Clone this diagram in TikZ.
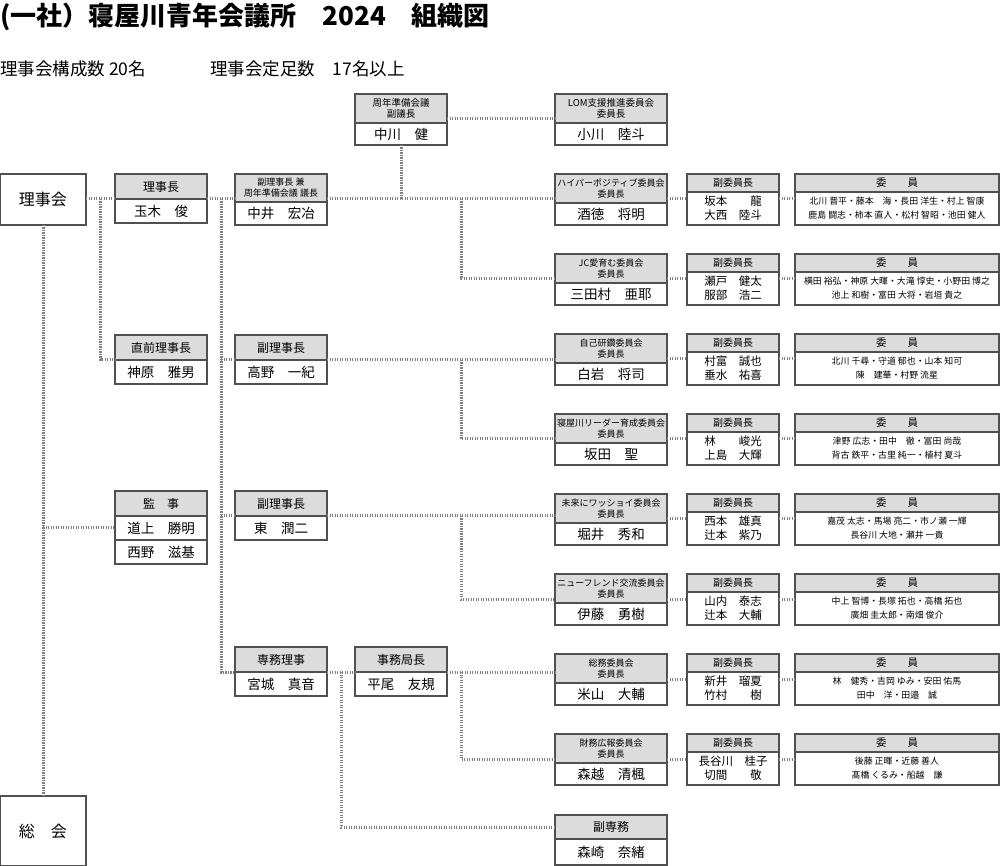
\documentclass[tikz,border=0pt]{standalone}
\usepackage{fontspec}
\setmainfont{Noto Sans CJK JP}
\usetikzlibrary{positioning,calc}
\definecolor{boxline}{HTML}{505050}
\definecolor{hdfill}{HTML}{DCDCDC}
\definecolor{dotline}{HTML}{808080}

\begin{document}
\begin{tikzpicture}[x=1pt, y=-1pt,
    box/.style={draw=boxline, line width=1.2pt, outer sep=0pt, inner sep=0pt, align=center},
    hd/.style={box, fill=hdfill, anchor=north west},
    lhd/.style={hd, minimum width=92, minimum height=25, font=\fontsize{12}{14}\selectfont},
    lnm/.style={box, minimum width=92, minimum height=24, font=\fontsize{13.5}{16}\selectfont},
    chd/.style={hd, minimum width=112, minimum height=29, font=\fontsize{9}{11}\selectfont},
    cnm/.style={box, minimum width=112, minimum height=22, font=\fontsize{13.5}{16}\selectfont},
    vhd/.style={hd, minimum width=92, minimum height=18, font=\fontsize{10}{12}\selectfont},
    vnm/.style={box, minimum width=92, minimum height=33, font=\fontsize{11.5}{14}\selectfont},
    mhd/.style={hd, minimum width=204, minimum height=18, font=\fontsize{10.5}{12}\selectfont},
    mnm/.style={box, minimum width=204, minimum height=33, font=\fontsize{8.9}{14}\selectfont},
    conn/.style={draw=dotline, line width=3pt, dash pattern=on 1.3pt off 1.2pt}]
    \useasboundingbox (0,0) rectangle (1002,866);

    % heading
    \node[anchor=west, inner sep=0pt, font=\fontsize{26}{30}\selectfont\bfseries] (title) at (0,17) {(一社）寝屋川青年会議所　2024　組織図};
    \node[anchor=west, inner sep=0pt, font=\fontsize{17.5}{20}\selectfont] (kousei) at (0,69) {理事会構成数 20名};
    \node[anchor=west, inner sep=0pt, font=\fontsize{17.5}{20}\selectfont] (teisoku) at (210,69) {理事会定足数　17名以上};

    % left side
    \node[box, anchor=north west, minimum width=86, minimum height=51, font=\fontsize{16}{18}\selectfont] (rijikai) at (0,174) {理事会};
    \node[box, anchor=north west, minimum width=86, minimum height=70, font=\fontsize{16}{18}\selectfont] (soukai) at (0,796) {総　会};
    \node[lhd] (rjh) at (115,174) {理事長};
    \node[lnm, below=0pt of rjh] (rjn) {玉木　俊};
    \node[lhd] (zzh) at (115,335) {直前理事長};
    \node[lnm, below=0pt of zzh] (zzn) {神原　雅男};
    \node[lhd] (kjh) at (115,491) {監　事};
    \node[lnm, below=0pt of kjh] (kj1) {道上　勝明};
    \node[lnm, below=0pt of kj1] (kj2) {西野　滋基};

    \node[lhd, minimum height=28, font=\fontsize{9}{11}\selectfont] (fkh) at (235,174) {副理事長 兼\\周年準備会議 議長};
    \node[lnm, minimum height=23, below=0pt of fkh] (fkn) {中井　宏冶};
    \node[lhd] (f1h) at (235,335) {副理事長};
    \node[lnm, below=0pt of f1h] (f1n) {高野　一紀};
    \node[lhd] (f2h) at (235,491) {副理事長};
    \node[lnm, below=0pt of f2h] (f2n) {東　潤二};
    \node[lhd] (smh) at (235,647) {専務理事};
    \node[lnm, below=0pt of smh] (smn) {宮城　真音};
    \node[lhd] (jkh) at (355,647) {事務局長};
    \node[lnm, below=0pt of jkh] (jkn) {平尾　友規};

    \node[lhd, minimum height=29, font=\fontsize{9.5}{11}\selectfont] (syuh) at (355,94) {周年準備会議\\副議長};
    \node[lnm, minimum height=22, below=0pt of syuh] (syun) {中川　健};
    \node[chd, font=\fontsize{9.5}{11}\selectfont] (lomh) at (555,94) {LOM支援推進委員会\\委員長};
    \node[cnm, below=0pt of lomh] (lomn) {小川　陸斗};
    \node[chd, minimum height=24, font=\fontsize{12}{14}\selectfont] (fsh) at (555,815) {副専務};
    \node[cnm, minimum height=26, below=0pt of fsh] (fsn) {森崎　奈緒};

    % committees
    \node[chd] (c1h) at (555,174) {ハイパーポジティブ委員会\\委員長};
    \node[cnm, below=0pt of c1h] (c1n) {酒徳　将明};
    \node[vhd] (v1h) at (687,174) {副委員長};
    \node[vnm, below=0pt of v1h] (v1n) {坂本　　龍\\大西　陸斗};
    \node[mhd] (m1h) at (795,174) {委　　員};
    \node[mnm, below=0pt of m1h] (m1n) {北川 晋平・藤本　海・長田 洋生・村上 智康\\鹿島 闘志・柿本 直人・松村 智昭・池田 健人};

    \node[chd] (c2h) at (555,254) {JC愛育む委員会\\委員長};
    \node[cnm, below=0pt of c2h] (c2n) {三田村　亜耶};
    \node[vhd] (v2h) at (687,254) {副委員長};
    \node[vnm, below=0pt of v2h] (v2n) {瀬戸　健太\\服部　浩二};
    \node[mhd] (m2h) at (795,254) {委　　員};
    \node[mnm, below=0pt of m2h] (m2n) {横田 裕弘・神原 大暉・大滝 惇史・小野田 博之\\池上 和樹・富田 大将・岩垣 貴之};

    \node[chd] (c3h) at (555,334) {自己研鑽委員会\\委員長};
    \node[cnm, below=0pt of c3h] (c3n) {白岩　将司};
    \node[vhd] (v3h) at (687,334) {副委員長};
    \node[vnm, below=0pt of v3h] (v3n) {村富　誠也\\垂水　祐喜};
    \node[mhd] (m3h) at (795,334) {委　　員};
    \node[mnm, below=0pt of m3h] (m3n) {北川 千尋・守道 郁也・山本 知可\\陳　建華・村野 流星};

    \node[chd] (c4h) at (555,414) {寝屋川リーダー育成委員会\\委員長};
    \node[cnm, below=0pt of c4h] (c4n) {坂田　聖};
    \node[vhd] (v4h) at (687,414) {副委員長};
    \node[vnm, below=0pt of v4h] (v4n) {林　　峻光\\上島　大輝};
    \node[mhd] (m4h) at (795,414) {委　　員};
    \node[mnm, below=0pt of m4h] (m4n) {津野 広志・田中　徹・冨田 尚哉\\背古 鉄平・古里 純一・植村 夏斗};

    \node[chd] (c5h) at (555,494) {未来にワッショイ委員会\\委員長};
    \node[cnm, below=0pt of c5h] (c5n) {堀井　秀和};
    \node[vhd] (v5h) at (687,494) {副委員長};
    \node[vnm, below=0pt of v5h] (v5n) {西本　雄真\\辻本　紫乃};
    \node[mhd] (m5h) at (795,494) {委　　員};
    \node[mnm, below=0pt of m5h] (m5n) {嘉茂 太志・馬場 亮二・市ノ瀬 一輝\\長谷川 大地・瀬井 一貴};

    \node[chd] (c6h) at (555,574) {ニューフレンド交流委員会\\委員長};
    \node[cnm, below=0pt of c6h] (c6n) {伊藤　勇樹};
    \node[vhd] (v6h) at (687,574) {副委員長};
    \node[vnm, below=0pt of v6h] (v6n) {山内　泰志\\辻本　大輔};
    \node[mhd] (m6h) at (795,574) {委　　員};
    \node[mnm, below=0pt of m6h] (m6n) {中上 智博・長塚 拓也・高橋 拓也\\廣畑 圭太郎・南畑 俊介};

    \node[chd] (c7h) at (555,654) {総務委員会\\委員長};
    \node[cnm, below=0pt of c7h] (c7n) {米山　大輔};
    \node[vhd] (v7h) at (687,654) {副委員長};
    \node[vnm, below=0pt of v7h] (v7n) {新井　瑠夏\\竹村　　樹};
    \node[mhd] (m7h) at (795,654) {委　　員};
    \node[mnm, below=0pt of m7h] (m7n) {林　健秀・吉岡 ゆみ・安田 佑馬\\田中　洋・田邉　誠};

    \node[chd] (c8h) at (555,734) {財務広報委員会\\委員長};
    \node[cnm, below=0pt of c8h] (c8n) {森越　清楓};
    \node[vhd] (v8h) at (687,734) {副委員長};
    \node[vnm, below=0pt of v8h] (v8n) {長谷川　桂子\\切間　　敬};
    \node[mhd] (m8h) at (795,734) {委　　員};
    \node[mnm, below=0pt of m8h] (m8n) {後藤 正暉・近藤 善人\\髙橋 くるみ・船越　謙};

    % helper points
    \coordinate (k0) at ([yshift=4pt]lomh.south west);
    \coordinate (k1) at ([yshift=4pt]c1h.south west);
    \coordinate (k2) at ([yshift=4pt]c2h.south west);
    \coordinate (k3) at ([yshift=4pt]c3h.south west);
    \coordinate (k4) at ([yshift=4pt]c4h.south west);
    \coordinate (k5) at ([yshift=4pt]c5h.south west);
    \coordinate (k6) at ([yshift=4pt]c6h.south west);
    \coordinate (k7) at ([yshift=4pt]c7h.south west);
    \coordinate (k8) at ([yshift=4pt]c8h.south west);
    \coordinate (b1) at ($(rijikai.east)!.5!(rjh.west)$);
    \coordinate (b2) at ($(rjh.east)!.5!(fkh.west)$);
    \coordinate (b3) at ($(smh.east)!.5!(jkh.west)$);
    \coordinate (bus) at (461,0);

    % links
    \draw[conn] (rijikai.east |- rjh.south) -- (rjh.south west);
    \draw[conn] (b1 |- rjh.south) |- (zzh.south west);
    \draw[conn] (rijikai.south) -- (soukai.north);
    \draw[conn] (rijikai.south |- kj1.west) -- (kj1.west);
    \draw[conn] (rjh.south east) -- (k1 -| fkh.west);
    \draw[conn] (b2 |- rjh.south) |- (smh.south west);
    \draw[conn] (b2 |- f1h.south) -- (f1h.south west);
    \draw[conn] (b2 |- f2h.south) -- (f2h.south west);
    \draw[conn] (k1 -| fkh.east) -- (k1);
    \draw[conn] (syun.south) -- (syun.south |- k1);
    \draw[conn] (k0 -| syuh.east) -- (k0);
    \draw[conn] (bus |- k1) |- (k2);
    \draw[conn] (f1h.south east) -- (f1h.south east -| c3h.west);
    \draw[conn] (bus |- f1h.south) |- (k4);
    \draw[conn] (f2h.south east) -- (f2h.south east -| c5h.west);
    \draw[conn] (bus |- f2h.south) |- (k6);
    \draw[conn] (smh.south east) -- (jkh.south west);
    \draw[conn] (b3 |- smh.south) |- (fsh.west);
    \draw[conn] (jkh.south east) -- (jkh.south east -| c7h.west);
    \draw[conn] (bus |- jkh.south) |- (k8);
    \draw[conn] (k1 -| c1h.east) -- (k1 -| v1n.west) (k1 -| v1n.east) -- (k1 -| m1n.west);
    \draw[conn] (k2 -| c2h.east) -- (k2 -| v2n.west) (k2 -| v2n.east) -- (k2 -| m2n.west);
    \draw[conn] (k3 -| c3h.east) -- (k3 -| v3n.west) (k3 -| v3n.east) -- (k3 -| m3n.west);
    \draw[conn] (k4 -| c4h.east) -- (k4 -| v4n.west) (k4 -| v4n.east) -- (k4 -| m4n.west);
    \draw[conn] (k5 -| c5h.east) -- (k5 -| v5n.west) (k5 -| v5n.east) -- (k5 -| m5n.west);
    \draw[conn] (k6 -| c6h.east) -- (k6 -| v6n.west) (k6 -| v6n.east) -- (k6 -| m6n.west);
    \draw[conn] (k7 -| c7h.east) -- (k7 -| v7n.west) (k7 -| v7n.east) -- (k7 -| m7n.west);
    \draw[conn] (k8 -| c8h.east) -- (k8 -| v8n.west) (k8 -| v8n.east) -- (k8 -| m8n.west);
\end{tikzpicture}
\end{document}
